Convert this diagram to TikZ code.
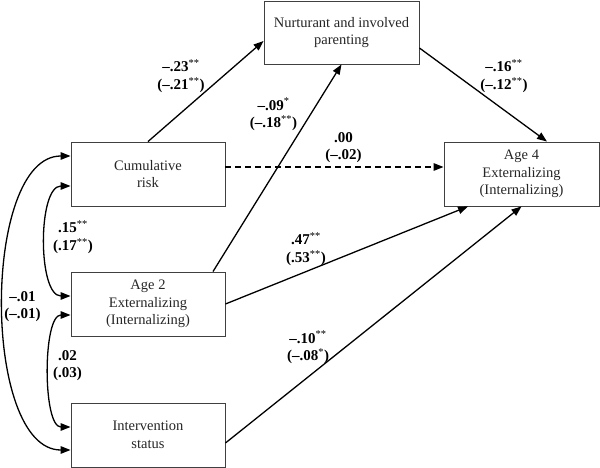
\documentclass[tikz,border=0pt]{standalone}
\usepackage{fontspec}
\setmainfont{Liberation Serif}
\usetikzlibrary{arrows.meta}
\newcommand{\mystars}[1]{\textsuperscript{\normalfont #1}}
\begin{document}
\begin{tikzpicture}[x=1pt,y=-1pt,
  box/.style={draw=black!75, line width=0.9pt, minimum width=154pt, minimum height=64pt, inner sep=0pt, align=center, font=\fontsize{14.5}{17.7}\selectfont, text=black!85},
  lab/.style={align=center, inner sep=0pt, font=\fontsize{15}{17.7}\selectfont\bfseries},
  arr/.style={line width=1.3pt, -{Triangle[length=10pt,width=7.5pt]}},
  dbl/.style={line width=1.3pt, {Triangle[length=10pt,width=7.5pt]}-{Triangle[length=10pt,width=7.5pt]}}]
\useasboundingbox (0,0) rectangle (600,468);

% boxes
\node[box, minimum height=63pt, minimum width=155pt] (nur) at (341.5,32.5) {Nurturant and involved\\parenting};
\node[box] (cr) at (148,174) {Cumulative\\risk};
\node[box, minimum width=155pt] (a4) at (521.5,174) {Age 4\\Externalizing\\(Internalizing)};
\node[box] (a2) at (148,304) {Age 2\\Externalizing\\(Internalizing)};
\node[box] (iv) at (148,435) {Intervention\\status};

% paths
\draw[arr] (cr.north) -- ([yshift=-8.5pt]nur.west);
\draw[arr] ([xshift=65pt]a2.north) -- (nur.south);
\draw[arr] ([yshift=-15.5pt]nur.east) -- ([xshift=25.5pt]a4.north);
\draw[arr, dash pattern=on 6pt off 4pt] ([yshift=7pt]cr.east) -- ([yshift=7pt]a4.west);
\draw[arr] (a2.east) -- ([xshift=-53.5pt]a4.south);
\draw[arr] ([yshift=-8pt]iv.east) -- (a4.south);

% correlations
\draw[dbl] ([yshift=-12pt]cr.west) .. controls +(-33,0) and +(-33,0) .. ([yshift=8pt]a2.west);
\draw[dbl] ([yshift=-11pt]a2.west) .. controls +(-28,0) and +(-28,0) .. ([yshift=8pt]iv.west);
\draw[dbl] ([yshift=18pt]cr.west) .. controls +(-89,0) and +(-89,0) .. ([yshift=-15pt]iv.west);

% labels
\node[lab] (l1) at (181,76) {–.23\mystars{**}\\(–.21\mystars{**})};
\node[lab] (l2) at (273.5,114.5) {–.09\mystars{*}\\(–.18\mystars{**})};
\node[lab] (l3) at (343.5,147.5) {.00\\(–.02)};
\node[lab] (l4) at (504,76) {–.16\mystars{**}\\(–.12\mystars{**})};
\node[lab] (l5) at (306,249) {.47\mystars{**}\\(.53\mystars{**})};
\node[lab] (l6) at (308,347.5) {–.10\mystars{**}\\(–.08\mystars{*})};
\node[lab] (l7) at (73,237) {.15\mystars{**}\\(.17\mystars{**})};
\node[lab] (l8) at (22.5,306.5) {–.01\\(–.01)};
\node[lab] (l9) at (67.5,365.5) {.02\\(.03)};
\end{tikzpicture}
\end{document}
